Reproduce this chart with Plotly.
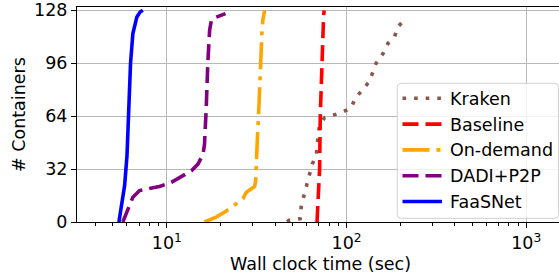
import plotly.graph_objects as go

# ---- data ----
kraken_t = [46.8, 47.7, 55.2, 55.9, 57.6, 60.1, 61.7, 64.4, 67.8, 68.3, 69.6, 70.8, 75.4, 80.4,
            92.9, 106, 112, 123, 134, 146, 160, 170, 185, 193, 213]
kraken_n = [0, 1, 2, 9, 15, 22, 28, 35, 40, 46, 53, 58.5, 63, 64,
            66, 69, 75, 80, 85, 96, 102, 108, 112, 118, 123]

baseline_t = [68.5, 69.5, 70.8, 71.4, 72.5, 73.3, 74.5, 75.0]
baseline_n = [0, 16, 32, 64, 90, 102, 124, 128]

ondemand_t = [16.2, 17.5, 18.8, 21.0, 23.8, 26.5, 27.7, 29.5, 30.8, 31.2, 31.45, 31.8, 32.4,
              33.1, 33.8, 34.2, 35.0]
ondemand_n = [0, 1.5, 3, 6, 10, 14, 18, 20, 21.5, 25, 31, 47, 65, 94, 114, 122, 128]

dadi_t = [5.69, 6.07, 6.47, 7.05, 8.0, 9.1, 10.6, 12.3, 13.7, 14.9, 15.9, 16.2, 16.4, 16.55,
          16.9, 17.3, 17.7, 18.0, 21.2]
dadi_n = [0, 8, 15, 19, 20, 21.5, 24, 28, 31, 35, 41, 47, 57, 68, 96, 116, 122, 123, 126]

faasnet_t = [5.41, 5.55, 5.69, 5.82, 6.0, 6.12, 6.28, 6.47, 6.81, 7.1, 7.35]
faasnet_n = [0, 8, 16, 22, 40, 64, 96, 114, 124, 127, 128]

series_names = ["Kraken", "Baseline", "On-demand", "DADI+P2P", "FaaSNet"]
y_ticks = [0, 32, 64, 96, 128]
x_major = [10, 100, 1000]
x_major_text = ["10<sup>1</sup>", "10<sup>2</sup>", "10<sup>3</sup>"]
x_minor = [m * d for d in (1, 10, 100, 1000) for m in range(2, 10)]
x_title = "Wall clock time (sec)"
y_title = "# Containers"

FONT = "DejaVu Sans"
FS = 17.5
LW = 3.6
W, H = 559, 277
ML, MR, MT, MB = 77, 0, 7, 55
PW, PH = W - ML - MR, H - MT - MB


def px(x):
    return (x - ML) / PW


def py(y):
    return (H - MB - y) / PH


colors = ["#8c564b", "#ff0000", "#ffa500", "#800080", "#0000ff"]
dashes = ["3.6px,8px", "16px,7px", "27px,7px,4px,7px", "16px,7px", "solid"]
data = [(kraken_t, kraken_n), (baseline_t, baseline_n), (ondemand_t, ondemand_n),
        (dadi_t, dadi_n), (faasnet_t, faasnet_n)]

fig = go.Figure()
for name, (t, n), color, dash in zip(series_names, data, colors, dashes):
    fig.add_trace(go.Scatter(x=t, y=n, mode="lines", name=name, showlegend=False,
                             line=dict(color=color, width=LW, dash=dash)))

# ---- legend (drawn manually to match matplotlib layout) ----
bx0, bx1, by0, by1, r = 397.3, 558.5, 83.3, 218.3, 4
rx, ry = r / PW, r / PH
X0, X1, Y0, Y1 = px(bx0), px(bx1), py(by1), py(by0)
path = (f"M {X0+rx},{Y0} L {X1-rx},{Y0} Q {X1},{Y0} {X1},{Y0+ry} "
        f"L {X1},{Y1-ry} Q {X1},{Y1} {X1-rx},{Y1} L {X0+rx},{Y1} "
        f"Q {X0},{Y1} {X0},{Y1-ry} L {X0},{Y0+ry} Q {X0},{Y0} {X0+rx},{Y0} Z")
shapes = [dict(type="path", xref="paper", yref="paper", path=path,
               fillcolor="rgba(255,255,255,0.8)", line=dict(color="#d0d0d0", width=1),
               layer="above")]
annotations = []
for i, (name, color, dash) in enumerate(zip(series_names, colors, dashes)):
    yc = 98.3 + i * 25.8
    shapes.append(dict(type="line", xref="paper", yref="paper",
                       x0=px(402.5), x1=px(442), y0=py(yc), y1=py(yc),
                       line=dict(color=color, width=LW, dash=dash), layer="above"))
    annotations.append(dict(text=name, xref="paper", yref="paper", x=px(448.3), y=py(yc + 0.5),
                            xanchor="left", yanchor="middle", showarrow=False,
                            font=dict(family=FONT, size=FS, color="black")))

annotations.append(dict(text=x_title, xref="paper", yref="paper", x=px(320), y=py(264),
                        xanchor="center", yanchor="middle", showarrow=False,
                        font=dict(family=FONT, size=FS, color="black")))
annotations.append(dict(text=y_title, xref="paper", yref="paper", x=px(18.5), y=py(114.5),
                        xanchor="center", yanchor="middle", showarrow=False, textangle=-90,
                        font=dict(family=FONT, size=FS, color="black")))

fig.update_layout(
    width=W, height=H,
    margin=dict(l=ML, r=MR, t=MT, b=MB),
    paper_bgcolor="white", plot_bgcolor="white",
    font=dict(family=FONT, size=FS, color="black"),
    showlegend=False,
    shapes=shapes, annotations=annotations,
)
fig.update_xaxes(
    type="log", range=[0.5, 0.5 + PW / 179.7],
    tickvals=x_major, ticktext=x_major_text,
    tickfont=dict(family=FONT, size=FS),
    ticks="outside", ticklen=5, tickwidth=1.1, tickcolor="black",
    minor=dict(tickvals=x_minor, ticks="outside", ticklen=3, tickwidth=0.9,
               tickcolor="black", showgrid=False),
    showgrid=True, gridcolor="#b8b8b8", gridwidth=1.1,
    showline=True, linecolor="black", linewidth=1.1, mirror=True,
    zeroline=False, automargin=False,
)
fig.update_yaxes(
    range=[0, 130], tickvals=y_ticks,
    tickfont=dict(family=FONT, size=FS),
    ticks="outside", ticklen=5, tickwidth=1.1, tickcolor="black",
    showgrid=True, gridcolor="#b8b8b8", gridwidth=1.1,
    showline=True, linecolor="black", linewidth=1.1, mirror=False,
    zeroline=False, automargin=False,
)

fig.write_html("out.html",
               config={"displayModeBar": False},
               post_script="document.body.style.margin='0';document.body.style.padding='0';")
